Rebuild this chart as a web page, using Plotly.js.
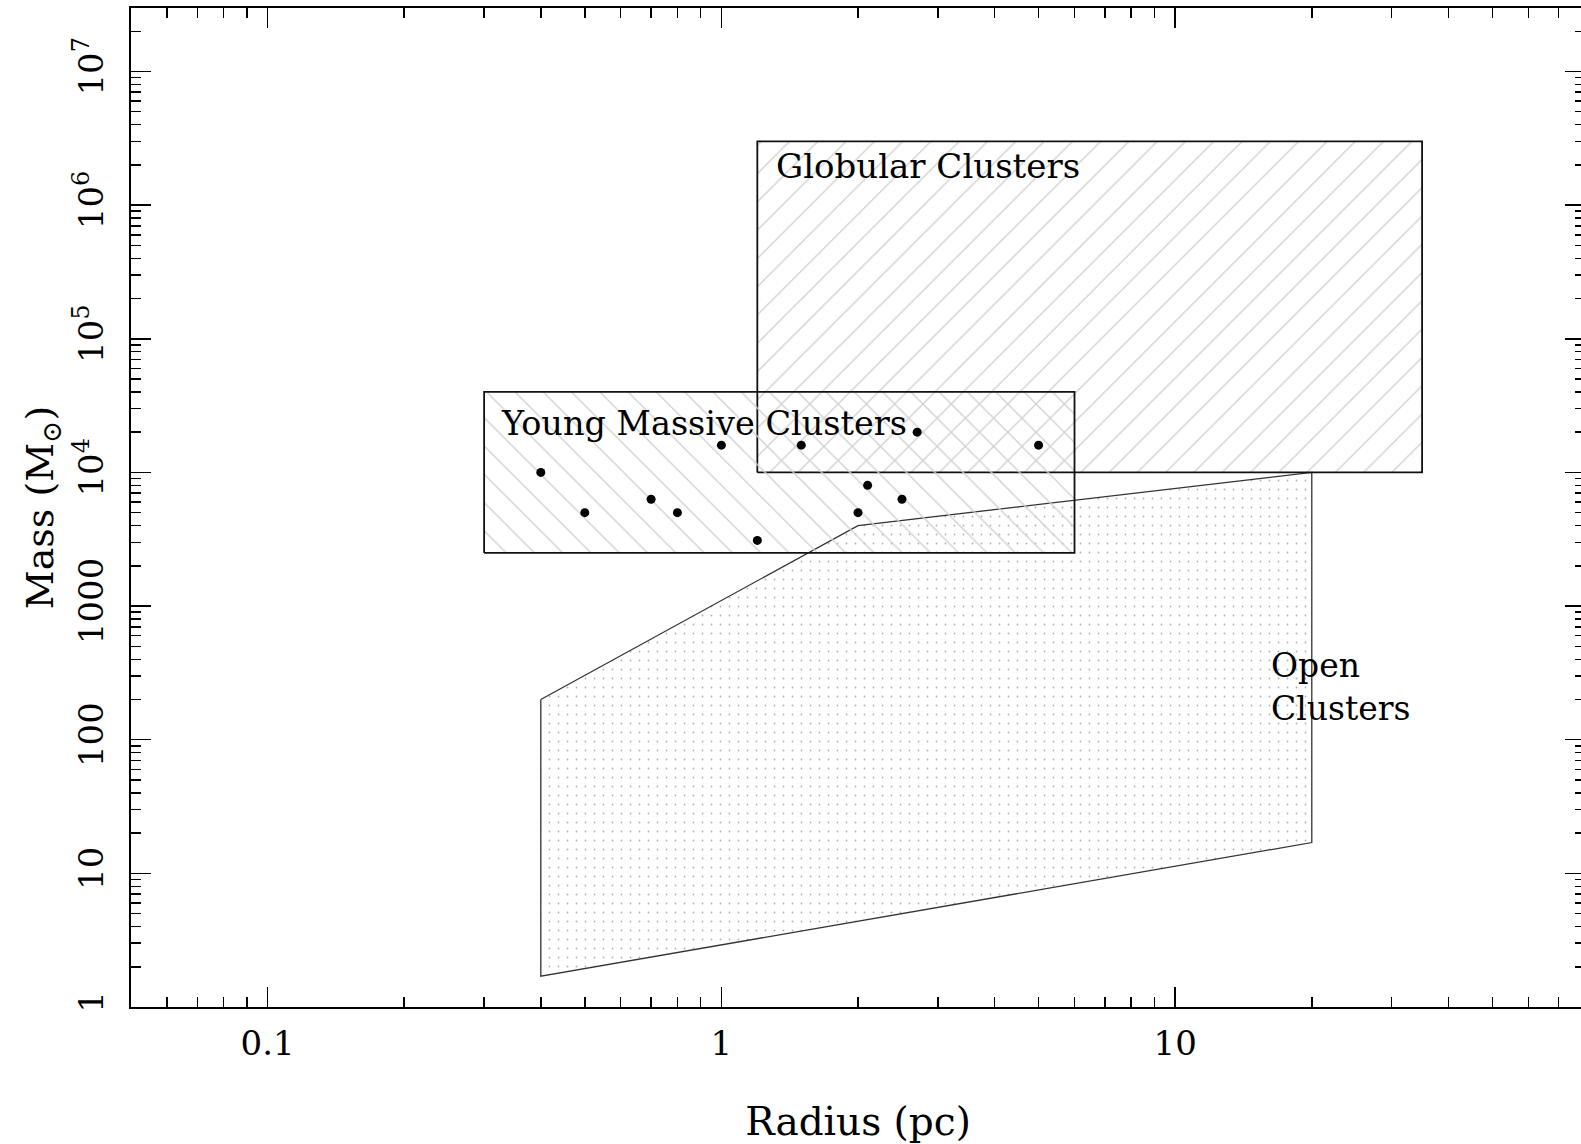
<!DOCTYPE html>
<html>
<head>
<meta charset="utf-8">
<script src="https://cdn.plot.ly/plotly-3.0.1.min.js"></script>
<style>
html, body { margin:0; padding:0; overflow:hidden; background:#fff; }
#chart { width:1585px; height:1144px; }
</style>
</head>
<body>
<div id="chart"></div>
<script>
// ---- data (radius in pc, mass in solar masses) ----
const globularRadius = [1.2, 35];
const globularMass = [1e4, 3e6];
const ymcRadius = [0.3, 6];
const ymcMass = [2500, 4e4];
const openRadius = [0.4, 2, 20, 20, 0.4, 0.4];
const openMass = [200, 4000, 1e4, 17, 1.7, 200];
const ymcPointRadius = [0.4, 0.5, 0.7, 0.8, 1.0, 1.2, 1.5, 2.0, 2.1, 2.5, 2.7, 5.0];
const ymcPointMass = [1e4, 5000, 6300, 5000, 1.6e4, 3100, 1.6e4, 5000, 8000, 6300, 2e4, 1.6e4];
const xTickVals = [0.1, 1, 10];
const xTickText = ['0.1', '1', '10'];
const yTickVals = [1, 10, 100, 1000, 1e4, 1e5, 1e6, 1e7];
const yTickText = ['1', '10', '100', '1000', '10<sup>4</sup>', '10<sup>5</sup>', '10<sup>6</sup>', '10<sup>7</sup>'];

function rectX(r) { return [r[0], r[1], r[1], r[0], r[0]]; }
function rectY(m) { return [m[0], m[0], m[1], m[1], m[0]]; }
function minorVals(lo, hi) {
  const v = [];
  for (let e = lo; e <= hi; e++) for (let d = 2; d <= 9; d++) v.push(d * Math.pow(10, e));
  return v;
}

const FONT = 'DejaVu Serif, Liberation Serif, serif';

const traces = [
  {
    x: openRadius, y: openMass, mode: 'lines', fill: 'toself',
    fillcolor: 'rgba(255,255,255,0)',
    fillpattern: {shape: '.', size: 9, solidity: 0.03, fgcolor: '#b0b0b0'},
    line: {color: '#333', width: 1.3}, hoverinfo: 'skip', showlegend: false
  },
  {
    x: rectX(globularRadius), y: rectY(globularMass), mode: 'lines', fill: 'toself',
    fillcolor: 'rgba(255,255,255,0)',
    fillpattern: {shape: '/', size: 20, solidity: 0.07, fgcolor: '#d2d2d2'},
    line: {color: '#111', width: 1.8}, hoverinfo: 'skip', showlegend: false
  },
  {
    x: rectX(ymcRadius), y: rectY(ymcMass), mode: 'lines', fill: 'toself',
    fillcolor: 'rgba(255,255,255,0)',
    fillpattern: {shape: '\\', size: 20, solidity: 0.07, fgcolor: '#d2d2d2'},
    line: {color: '#111', width: 1.8}, hoverinfo: 'skip', showlegend: false
  },
  {
    x: ymcPointRadius, y: ymcPointMass, mode: 'markers',
    marker: {color: '#000', size: 9}, showlegend: false
  }
];

const axisCommon = {
  type: 'log', showgrid: false, zeroline: false,
  showline: true, linecolor: '#000', linewidth: 2, mirror: 'ticks',
  ticks: 'inside', ticklen: 20, tickwidth: 1.5, tickcolor: '#000',
  tickfont: {family: FONT, size: 34, color: '#000'},
  tickmode: 'array'
};

const layout = {
  width: 1585, height: 1144,
  margin: {l: 131, r: 0, t: 8, b: 137},
  paper_bgcolor: '#fff', plot_bgcolor: '#fff',
  xaxis: Object.assign({}, axisCommon, {
    range: [Math.log10(0.05), Math.log10(80)],
    tickvals: xTickVals, ticktext: xTickText,
    ticklabelstandoff: 5,
    minor: {tickmode: 'array', tickvals: minorVals(-2, 1), ticks: 'inside', ticklen: 10, tickwidth: 1.5, tickcolor: '#000', showgrid: false},
    title: {text: 'Radius (pc)', font: {family: FONT, size: 39, color: '#000'}, standoff: 46},
    automargin: false
  }),
  yaxis: Object.assign({}, axisCommon, {
    range: [0, 7.475],
    tickvals: yTickVals, ticktext: yTickText,
    tickangle: -90,
    ticklabelstandoff: 12,
    minor: {tickmode: 'array', tickvals: minorVals(0, 7), ticks: 'inside', ticklen: 10, tickwidth: 1.5, tickcolor: '#000', showgrid: false},
    title: {text: 'Mass (M<sub>⊙</sub>)', font: {family: FONT, size: 38, color: '#000'}, standoff: 2},
    automargin: false
  }),
  annotations: [
    {x: Math.log10(1.306), y: Math.log10(1.96e6), xref: 'x', yref: 'y', text: 'Globular Clusters',
     showarrow: false, xanchor: 'left', yanchor: 'middle', font: {family: FONT, size: 34, color: '#000'}},
    {x: Math.log10(0.3237), y: Math.log10(23200), xref: 'x', yref: 'y', text: 'Young Massive Clusters',
     showarrow: false, xanchor: 'left', yanchor: 'middle', font: {family: FONT, size: 33.5, color: '#000'}},
    {x: Math.log10(16.1), y: Math.log10(247), xref: 'x', yref: 'y', text: 'Open<br>Clusters', align: 'left',
     showarrow: false, xanchor: 'left', yanchor: 'middle', font: {family: FONT, size: 33, color: '#000'}}
  ]
};

Plotly.newPlot('chart', traces, layout, {staticPlot: true, displayModeBar: false});
</script>
</body>
</html>
